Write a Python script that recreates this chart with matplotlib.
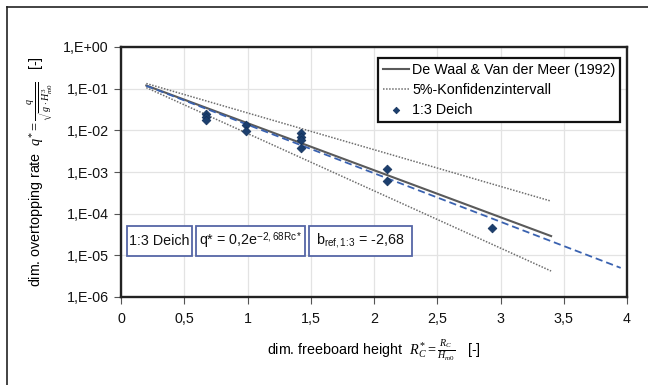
import math
import matplotlib
matplotlib.use("Agg")
import matplotlib.pyplot as plt
from matplotlib.lines import Line2D
from matplotlib.patches import Rectangle
from matplotlib.ticker import FuncFormatter, FixedLocator

plt.rcParams['font.family'] = ['Liberation Sans', 'DejaVu Sans']
plt.rcParams['mathtext.fontset'] = 'custom'
plt.rcParams['mathtext.rm'] = 'Liberation Serif'
plt.rcParams['mathtext.it'] = 'Liberation Serif:italic'
plt.rcParams['mathtext.sf'] = 'Liberation Sans'

# Data
deich_x = [0.67, 0.67, 0.67, 0.99, 0.99, 1.42, 1.42, 1.42, 1.42, 2.10, 2.10, 2.93]
deich_y = [0.024, 0.021, 0.018, 0.0135, 0.0098, 0.0088, 0.0068, 0.0060, 0.0037, 0.00116, 0.00062, 4.5e-5]

dewaal_x = [0.2, 3.4]
dewaal_y = [0.119, 2.9e-5]
conf_upper_x = [0.2, 3.4]
conf_upper_y = [0.133, 2.0e-4]
conf_lower_x = [0.2, 3.4]
conf_lower_y = [0.106, 4.2e-6]
fit_x = [0.2, 3.95]
fit_y = [0.117, 5.0e-6]

x_ticks = [0, 0.5, 1, 1.5, 2, 2.5, 3, 3.5, 4]
x_tick_labels = ['0', '0,5', '1', '1,5', '2', '2,5', '3', '3,5', '4']
y_exponents = [0, -1, -2, -3, -4, -5, -6]

FS = 10.3
W, H = 648, 385
L, R, T, B = 121, 627, 47, 297

fig = plt.figure(figsize=(W/100, H/100), dpi=100)
ax = fig.add_axes([L/W, 1-B/H, (R-L)/W, (B-T)/H])

ax.set_yscale('log')
ax.set_xlim(0, 4)
ax.set_ylim(1e-6, 1)

ax.grid(True, color='#e3e3e3', linewidth=0.9)
ax.set_axisbelow(True)

ax.plot(dewaal_x, dewaal_y, color='#5a5a5a', lw=1.5, label='De Waal & Van der Meer (1992)', zorder=3)
ax.plot(conf_upper_x, conf_upper_y, color='#6e6e6e', lw=1.1, ls=(0, (1, 1)), label='5%-Konfidenzintervall', zorder=3)
ax.plot(conf_lower_x, conf_lower_y, color='#6e6e6e', lw=1.1, ls=(0, (1, 1)), zorder=3)
ax.plot(fit_x, fit_y, color='#3a62b0', lw=1.3, ls=(0, (4, 2.2)), zorder=3)
ax.scatter(deich_x, deich_y, marker='D', s=20, color='#1c3f6e', edgecolors='#12305a', linewidths=0.5,
           label='1:3 Deich', zorder=4)

ax.xaxis.set_major_locator(FixedLocator(x_ticks))
ax.set_xticklabels(x_tick_labels)
ax.yaxis.set_major_locator(FixedLocator([10.0**e for e in y_exponents]))
ax.yaxis.set_minor_locator(FixedLocator([]))
ax.yaxis.set_major_formatter(FuncFormatter(lambda v, p: "1,E{:+03d}".format(int(round(math.log10(v))))))
ax.tick_params(axis='both', labelsize=FS, length=5, width=0.8, color='#555555', labelcolor='#111111')
ax.tick_params(axis='y', pad=4)
ax.tick_params(axis='x', pad=6)

for sp in ax.spines.values():
    sp.set_linewidth(1.7)
    sp.set_color('#222222')

leg = ax.legend(loc='upper right', bbox_to_anchor=(0.987, 0.957), fontsize=FS, frameon=True, fancybox=False,
                edgecolor='#111111', framealpha=1, handlelength=1.8, handletextpad=0.2, borderpad=0.35,
                borderaxespad=0, labelspacing=0.42, scatterpoints=1, markerscale=0.75)
leg.get_frame().set_linewidth(1.6)

# text boxes (pixel extents in reference)
boxes = [((127, 192), '1:3 Deich'),
         ((196, 305), r'q* = 0,2e$^{\mathsf{-2,68Rc*}}$'),
         ((309, 412), r'b$_{\mathsf{ref,1\!:\!3}}$ = -2,68')]
by0, by1 = 226, 256
for (x0, x1), txt in boxes:
    fx0 = (x0 - L) / (R - L)
    fx1 = (x1 - L) / (R - L)
    fy0 = 1 - (by1 - T) / (B - T)
    fy1 = 1 - (by0 - T) / (B - T)
    ax.add_patch(Rectangle((fx0, fy0), fx1 - fx0, fy1 - fy0, transform=ax.transAxes,
                           facecolor='white', edgecolor='#5566a6', lw=1.3, zorder=5))
    ax.text((fx0 + fx1) / 2, (fy0 + fy1) / 2, txt, transform=ax.transAxes, fontsize=FS,
            ha='center', va='center', zorder=6, color='#111111')

ax.set_ylabel(r'dim. overtopping rate  $q^{*}=\frac{q}{\sqrt{g\cdot H_{m0}^{3}}}$   [-]', fontsize=FS, labelpad=6)
ax.set_xlabel(r'dim. freeboard height  $R_C^{*}=\frac{R_C}{H_{m0}}$   [-]', fontsize=FS, labelpad=8)

# outer frame (top and left edges visible)
fig.add_artist(Line2D([7/W, 7/W], [0, 1-7/H], transform=fig.transFigure, color='#222222', lw=1.2))
fig.add_artist(Line2D([7/W, 1], [1-7/H, 1-7/H], transform=fig.transFigure, color='#222222', lw=1.2))

fig.savefig('out.png', dpi=100)
